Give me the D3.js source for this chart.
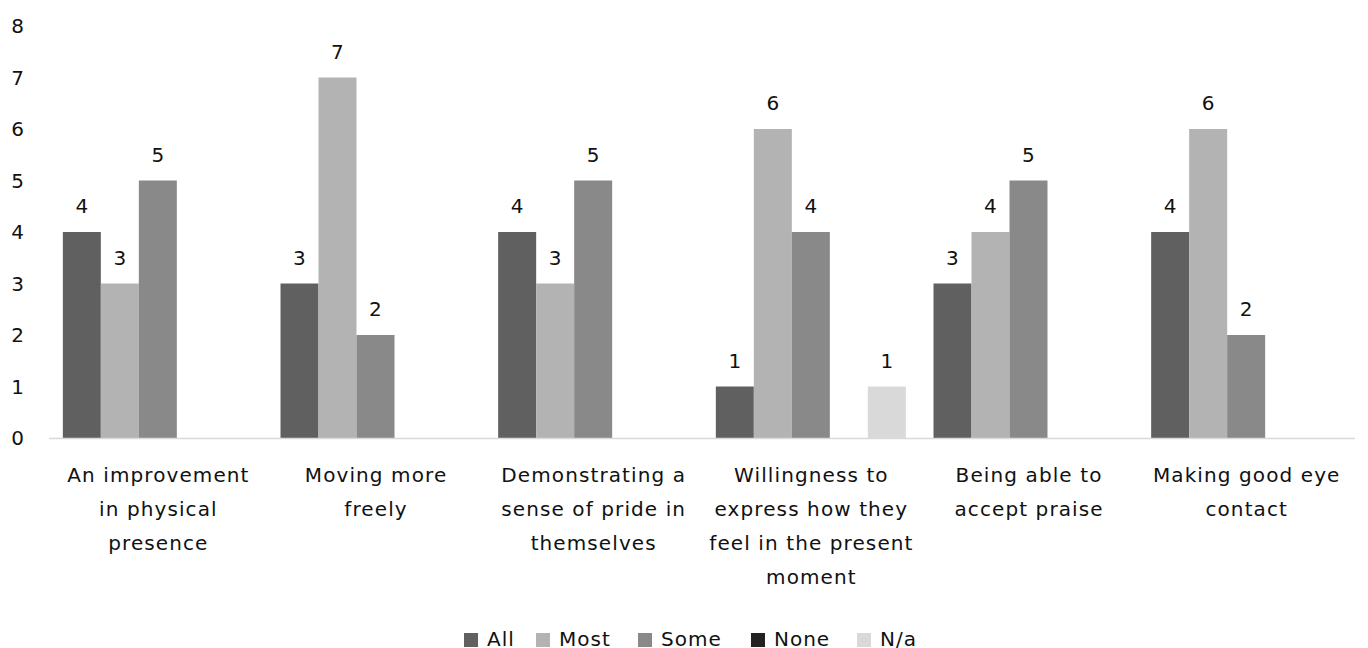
<!DOCTYPE html>
<html>
<head>
<meta charset="utf-8">
<script src="https://cdn.jsdelivr.net/npm/d3@7"></script>
<style>
  html, body { margin: 0; padding: 0; background: #fff; }
  svg { display: block; font-family: "DejaVu Sans", "Noto Sans", sans-serif; }
</style>
</head>
<body>
<svg id="chart" width="1368" height="648"></svg>
<script>
// Survey responses: how many participants showed each change
const categories = [
  "An improvement\nin physical\npresence",
  "Moving more\nfreely",
  "Demonstrating a\nsense of pride in\nthemselves",
  "Willingness to\nexpress how they\nfeel in the present\nmoment",
  "Being able to\naccept praise",
  "Making good eye\ncontact"
];
const seriesNames = ["All", "Most", "Some", "None", "N/a"];
const allValues  = [4, 3, 4, 1, 3, 4];
const mostValues = [3, 7, 3, 6, 4, 6];
const someValues = [5, 2, 5, 4, 5, 2];
const noneValues = [0, 0, 0, 0, 0, 0];
const naValues   = [0, 0, 0, 1, 0, 0];
const yTicks = [0, 1, 2, 3, 4, 5, 6, 7, 8];
const colors = ["#606060", "#b3b3b3", "#898989", "#222222", "#d9d9d9"];

const seriesValues = [allValues, mostValues, someValues, noneValues, naValues];

const svg = d3.select("#chart");
const plot = { left: 49, right: 1355, top: 26, bottom: 438 };
const textColor = "#111";

const x0 = d3.scaleBand()
  .domain(categories.map((c, i) => i))
  .range([plot.left, plot.right])
  .paddingInner(0).paddingOuter(0);

const x1 = d3.scaleBand()
  .domain(seriesNames)
  .range([0, x0.bandwidth()])
  .paddingOuter(0.364).paddingInner(0);

const y = d3.scaleLinear().domain([0, 8]).range([plot.bottom, plot.top]);

// y tick labels (no axis line)
svg.append("g")
  .selectAll("text")
  .data(yTicks)
  .join("text")
  .attr("x", 24)
  .attr("y", d => y(d))
  .attr("dy", "0.36em")
  .attr("text-anchor", "end")
  .attr("font-size", 20)
  .attr("fill", textColor)
  .text(d => d);

// bars
const groups = svg.append("g")
  .selectAll("g")
  .data(categories.map((c, i) => i))
  .join("g")
  .attr("transform", i => `translate(${x0(i)},0)`);

const cells = i => seriesNames
  .map((s, k) => ({ s, k, v: seriesValues[k][i] }))
  .filter(d => d.v > 0);

groups.selectAll("rect")
  .data(cells)
  .join("rect")
  .attr("x", d => x1(d.s))
  .attr("width", x1.bandwidth())
  .attr("y", d => y(d.v))
  .attr("height", d => y(0) - y(d.v))
  .attr("fill", d => colors[d.k]);

// value labels
groups.selectAll("text.val")
  .data(cells)
  .join("text")
  .attr("class", "val")
  .attr("x", d => x1(d.s) + x1.bandwidth() / 2)
  .attr("y", d => y(d.v) - 26)
  .attr("dy", "0.36em")
  .attr("text-anchor", "middle")
  .attr("font-size", 20)
  .attr("fill", textColor)
  .text(d => d.v);

// baseline
svg.append("line")
  .attr("x1", plot.left).attr("x2", plot.right)
  .attr("y1", y(0) + 0.5).attr("y2", y(0) + 0.5)
  .attr("stroke", "#d9d9d9").attr("stroke-width", 1.5);

// category labels
const catLabels = svg.append("g")
  .selectAll("text")
  .data(categories.map((c, i) => i))
  .join("text")
  .attr("x", i => x0(i) + x0.bandwidth() / 2)
  .attr("text-anchor", "middle")
  .attr("font-size", 20)
  .attr("letter-spacing", 1.1)
  .attr("fill", textColor);

catLabels.selectAll("tspan")
  .data(i => categories[i].split("\n"))
  .join("tspan")
  .attr("x", function () { return +d3.select(this.parentNode).attr("x") + 0.55; })
  .attr("y", (d, j) => 482 + j * 34)
  .text(d => d);

// legend
const legendX = [464, 536, 638, 751, 857];
const legend = svg.append("g")
  .selectAll("g")
  .data(seriesNames)
  .join("g")
  .attr("transform", (d, k) => `translate(${legendX[k]},632)`);

legend.append("rect")
  .attr("y", 1)
  .attr("width", 14).attr("height", 14)
  .attr("fill", (d, k) => colors[k]);

legend.append("text")
  .attr("x", 23)
  .attr("y", 14)
  .attr("font-size", 20)
  .attr("letter-spacing", 1)
  .attr("fill", textColor)
  .text(d => d);
</script>
</body>
</html>
